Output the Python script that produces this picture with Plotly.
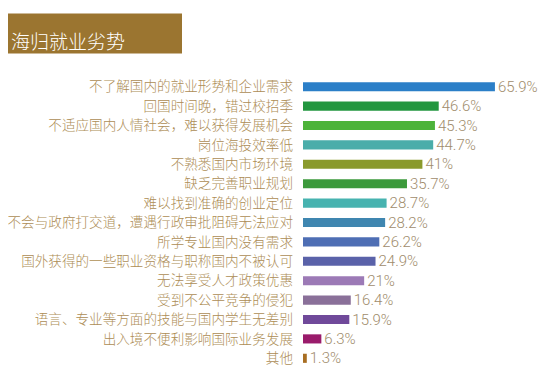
import plotly.graph_objects as go

categories = [
    "不了解国内的就业形势和企业需求",
    "回国时间晚，错过校招季",
    "不适应国内人情社会，难以获得发展机会",
    "岗位海投效率低",
    "不熟悉国内市场环境",
    "缺乏完善职业规划",
    "难以找到准确的创业定位",
    "不会与政府打交道，遭遇行政审批阻碍无法应对",
    "所学专业国内没有需求",
    "国外获得的一些职业资格与职称国内不被认可",
    "无法享受人才政策优惠",
    "受到不公平竞争的侵犯",
    "语言、专业等方面的技能与国内学生无差别",
    "出入境不便利影响国际业务发展",
    "其他",
]
values = [65.9, 46.6, 45.3, 44.7, 41, 35.7, 28.7, 28.2, 26.2, 24.9, 21, 16.4, 15.9, 6.3, 1.3]
bar_colors = [
    "#2b7fc8", "#22963f", "#4db33a", "#4aadaa", "#8a9a2c", "#3c9a3c", "#47b3b0",
    "#3f86b0", "#4e6eb4", "#5a62a9", "#9c7ab6", "#8a7099", "#70499a", "#9a1b6b", "#a86e22",
]
title_text = "海归就业劣势"
value_labels = [f"{v:g}%" for v in values]

# The page body has an 8px default margin; lay out in screen pixels and shift.
OFF = 8
W, H = 548 - OFF, 385 - 2 * OFF
L = 303 - OFF
R = W - (536 - OFF)
T = 77.4 - OFF
B = H - (367.7 - OFF)
pw, ph = W - L - R, H - T - B

def px_x(x):
    return (x - OFF - L) / pw

def px_y(y):
    return (H - B - (y - OFF)) / ph

fig = go.Figure(go.Bar(
    x=values,
    y=categories,
    orientation="h",
    marker=dict(color=bar_colors, line=dict(width=0)),
    text=value_labels,
    textposition="outside",
    constraintext="none",
    textfont=dict(family="Roboto, 'Noto Sans CJK SC', sans-serif", size=15, color="#a08c6c", weight=300),
    cliponaxis=False,
    width=0.47,
    hoverinfo="skip",
))

fig.update_layout(
    width=W, height=H,
    margin=dict(l=L, r=R, t=T, b=B, pad=0, autoexpand=False),
    paper_bgcolor="white",
    plot_bgcolor="white",
    showlegend=False,
    xaxis=dict(range=[0, 80], visible=False, fixedrange=True),
    yaxis=dict(
        autorange="reversed",
        showgrid=False, zeroline=False, showline=False, ticks="",
        ticklabelstandoff=9,
        fixedrange=True,
        automargin=False,
        tickfont=dict(family="'Noto Sans CJK SC', sans-serif", size=13.6, color="#ad8d55", weight=300),
    ),
    shapes=[dict(
        type="rect", xref="paper", yref="paper",
        x0=px_x(5), x1=px_x(182), y0=px_y(54), y1=px_y(14),
        fillcolor="#9b7530", line=dict(width=0), layer="above",
    )],
    annotations=[dict(
        text=title_text, xref="paper", yref="paper",
        x=px_x(9), y=px_y(41), xanchor="left", yanchor="middle",
        showarrow=False,
        font=dict(family="'Noto Sans CJK SC', sans-serif", size=19, color="white", weight=300),
    )],
)

fig.write_html("out.html", config={"displayModeBar": False, "staticPlot": True})
